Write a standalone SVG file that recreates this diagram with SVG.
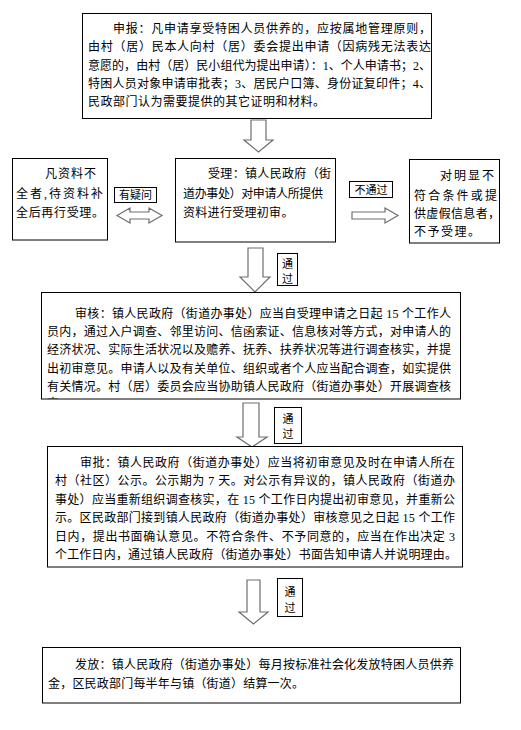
<svg xmlns="http://www.w3.org/2000/svg" width="521" height="730" viewBox="0 0 521 730">
<style>
.box{fill:#fff;stroke:#000;stroke-width:1}
.t{font-family:"Liberation Serif","Noto Sans CJK SC",serif;font-size:12px;fill:#000}
.l{font-family:"Noto Sans CJK SC",sans-serif;font-size:11px;fill:#000;text-anchor:middle}
.arr{fill:#fff;stroke:#6e6e6e;stroke-width:1.2;stroke-linejoin:miter}
</style>
<defs>
<clipPath id="c1"><rect x="42" y="293" width="418" height="105.5"/></clipPath>
</defs>
<rect width="521" height="730" fill="#fff"/>
<g id="connectors">
<polygon class="arr" points="251,120 266,120 266,140 273,140 258.5,152 244,140 251,140"/>
<polygon class="arr" points="248,248 263,248 263,277 270,277 255,292 240,277 248,277"/>
<polygon class="arr" points="243,403 259,403 259,437 267,437 252,447 237,437 243,437"/>
<polygon class="arr" points="247,580 260,580 260,612 268,612 253.5,624 239,612 247,612"/>
<polygon class="arr" points="352,212 385,212 385,208 398,215.5 385,223 385,219 352,219"/>
<polygon class="arr" points="117,215.5 130,208 130,212 149,212 149,208 162,215.5 149,223 149,219 130,219 130,223"/>
</g>
<g id="label-doubt"><rect class="box" x="114.5" y="187.5" width="42" height="15"/><text class="l" x="135.5" y="199">有疑问</text></g>
<g id="label-reject"><rect class="box" x="349.5" y="181.5" width="43" height="16"/><text class="l" x="371" y="194">不通过</text></g>
<g id="label-pass1"><rect class="box" x="277.5" y="253.5" width="20" height="32"/><text class="l" x="287.5" y="267.5">通</text><text class="l" x="287.5" y="283">过</text></g>
<g id="label-pass2"><rect class="box" x="274.5" y="407.5" width="27" height="36"/><text class="l" x="288" y="422.5">通</text><text class="l" x="288" y="438">过</text></g>
<g id="label-pass3"><rect class="box" x="277.5" y="578.5" width="25" height="38"/><text class="l" x="290" y="595.5">通</text><text class="l" x="290" y="611.5">过</text></g>
<g id="apply">
<rect class="box" x="82.5" y="13.5" width="349" height="105"/>
<text class="t" x="113" y="32.5" textLength="318" lengthAdjust="spacing">申报：凡申请享受特困人员供养的，应按属地管理原则，</text>
<text class="t" x="88" y="51" textLength="343" lengthAdjust="spacing">由村（居）民本人向村（居）委会提出申请（因病残无法表达</text>
<text class="t" x="88" y="69.5" textLength="343" lengthAdjust="spacing">意愿的，由村（居）民小组代为提出申请）：1、个人申请书；2、</text>
<text class="t" x="88" y="87.5" textLength="343" lengthAdjust="spacing">特困人员对象申请审批表；3、居民户口簿、身份证复印件；4、</text>
<text class="t" x="88" y="106" letter-spacing="0.5">民政部门认为需要提供的其它证明和材料。</text>
</g>
<g id="incomplete">
<rect class="box" x="12.5" y="158.5" width="95" height="81.5"/>
<text class="t" x="45" y="177.5" textLength="51" lengthAdjust="spacing">凡资料不</text>
<text class="t" x="16" y="197.5" textLength="87" lengthAdjust="spacing">全者,待资料补</text>
<text class="t" x="16" y="216.5" textLength="88" lengthAdjust="spacing">全后再行受理。</text>
</g>
<g id="accept">
<rect class="box" x="175.5" y="158.5" width="160" height="83.5"/>
<text class="t" x="208" y="178" textLength="123" lengthAdjust="spacing">受理：镇人民政府（街</text>
<text class="t" x="183" y="198" textLength="140" lengthAdjust="spacing">道办事处）对申请人所提供</text>
<text class="t" x="183" y="216.5" letter-spacing="0.3">资料进行受理初审。</text>
</g>
<g id="refuse">
<rect class="box" x="409.5" y="159.5" width="90" height="83.5"/>
<text class="t" x="440" y="179.5" textLength="54" lengthAdjust="spacing">对明显不</text>
<text class="t" x="414" y="199.5" textLength="83" lengthAdjust="spacing">符合条件或提</text>
<text class="t" x="414" y="217.5" textLength="86" lengthAdjust="spacing">供虚假信息者，</text>
<text class="t" x="414" y="235.5" letter-spacing="1.5">不予受理。</text>
</g>
<g id="review">
<rect class="box" x="41.5" y="292.5" width="419" height="106.5"/>
<g clip-path="url(#c1)">
<text class="t" x="75" y="317.5" textLength="376" lengthAdjust="spacing">审核：镇人民政府（街道办事处）应当自受理申请之日起 15 个工作人</text>
<text class="t" x="47" y="336" textLength="404" lengthAdjust="spacing">员内，通过入户调查、邻里访问、信函索证、信息核对等方式，对申请人的</text>
<text class="t" x="47" y="354.3" textLength="404" lengthAdjust="spacing">经济状况、实际生活状况以及赡养、抚养、扶养状况等进行调查核实，并提</text>
<text class="t" x="47" y="372.7" textLength="404" lengthAdjust="spacing">出初审意见。申请人以及有关单位、组织或者个人应当配合调查，如实提供</text>
<text class="t" x="47" y="391" textLength="404" lengthAdjust="spacing">有关情况。村（居）委员会应当协助镇人民政府（街道办事处）开展调查核</text>
<text class="t" x="47" y="407.5">实。</text>
</g>
</g>
<g id="approve">
<rect class="box" x="47.5" y="446.5" width="415" height="120.5"/>
<text class="t" x="80" y="466.5" textLength="375" lengthAdjust="spacing">审批：镇人民政府（街道办事处）应当将初审意见及时在申请人所在</text>
<text class="t" x="55" y="485" textLength="400" lengthAdjust="spacing">村（社区）公示。公示期为 7 天。对公示有异议的，镇人民政府（街道办</text>
<text class="t" x="55" y="503.5" textLength="400" lengthAdjust="spacing">事处）应当重新组织调查核实，在 15 个工作日内提出初审意见，并重新公</text>
<text class="t" x="55" y="522" textLength="400" lengthAdjust="spacing">示。区民政部门接到镇人民政府（街道办事处）审核意见之日起 15 个工作</text>
<text class="t" x="55" y="540.5" textLength="400" lengthAdjust="spacing">日内，提出书面确认意见。不符合条件、不予同意的，应当在作出决定 3</text>
<text class="t" x="55" y="559" textLength="402" lengthAdjust="spacing">个工作日内，通过镇人民政府（街道办事处）书面告知申请人并说明理由。</text>
</g>
<g id="issue">
<rect class="box" x="42.5" y="647.5" width="418" height="55.5"/>
<text class="t" x="75" y="668.5" textLength="379" lengthAdjust="spacing">发放：镇人民政府（街道办事处）每月按标准社会化发放特困人员供养</text>
<text class="t" x="48" y="687.5" letter-spacing="0.2">金，区民政部门每半年与镇（街道）结算一次。</text>
</g>
</svg>
